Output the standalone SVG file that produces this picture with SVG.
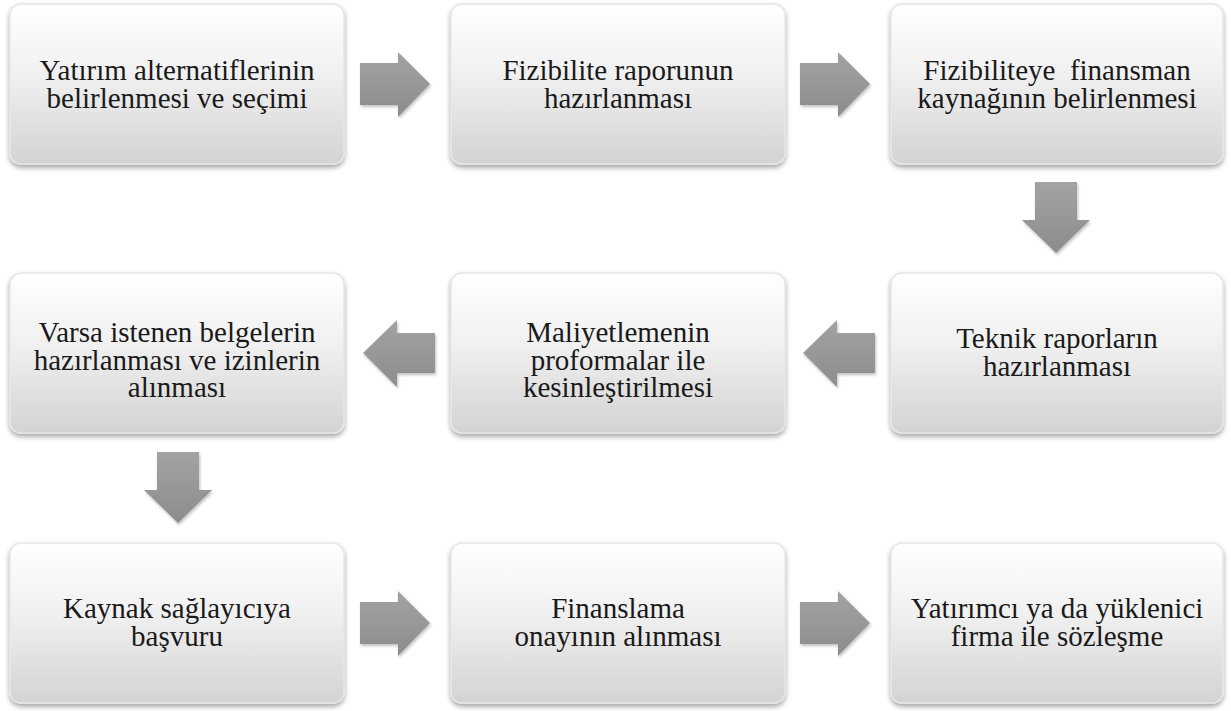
<svg xmlns="http://www.w3.org/2000/svg" xmlns:xlink="http://www.w3.org/1999/xlink" width="1231" height="711" viewBox="0 0 1231 711">
  <style>
    .box { fill: url(#boxGrad); stroke: #e6e6e6; stroke-width: 1.5; filter: url(#shadow); }
    .lbl { font-family: 'Liberation Serif', 'Times New Roman', serif; font-size: 29px; fill: #1a1a1a; text-anchor: middle; }
    .arrow { fill: url(#arrowGrad); filter: url(#ashadow); }
  </style>
  <defs>
    <linearGradient id="boxGrad" x1="0" y1="0" x2="0" y2="1">
      <stop offset="0" stop-color="#ffffff"/>
      <stop offset="0.45" stop-color="#f0f0f0"/>
      <stop offset="1" stop-color="#d3d3d3"/>
    </linearGradient>
    <linearGradient id="arrowGrad" x1="0" y1="0" x2="0" y2="1">
      <stop offset="0" stop-color="#a3a3a3"/>
      <stop offset="1" stop-color="#8c8c8c"/>
    </linearGradient>
    <filter id="shadow" x="-5%" y="-5%" width="110%" height="115%">
      <feDropShadow dx="0" dy="3" stdDeviation="2.5" flood-color="#000" flood-opacity="0.35"/>
    </filter>
    <filter id="ashadow" x="-20%" y="-20%" width="140%" height="140%">
      <feDropShadow dx="1" dy="2" stdDeviation="1.5" flood-color="#000" flood-opacity="0.25"/>
    </filter>
    <path id="arR" d="M0,-21 H38 V-32 L70,0 L38,33 V21 H0 Z"/>
    <path id="arL" d="M0,0 L34,-33 V-20 H72 V20 H34 V34 Z"/>
    <path id="arD" d="M-21,0 H21 V38 H34 L0,71 L-34,38 H-21 Z"/>
  </defs>

  <rect width="1231" height="711" fill="#ffffff"/>

  <g id="connectors">
    <use xlink:href="#arR" class="arrow" transform="translate(360,84)"/>
    <use xlink:href="#arR" class="arrow" transform="translate(800,84)"/>
    <use xlink:href="#arD" class="arrow" transform="translate(1056,182)"/>
    <use xlink:href="#arL" class="arrow" transform="translate(803,353)"/>
    <use xlink:href="#arL" class="arrow" transform="translate(363,353)"/>
    <use xlink:href="#arD" class="arrow" transform="translate(178,452)"/>
    <use xlink:href="#arR" class="arrow" transform="translate(360,623)"/>
    <use xlink:href="#arR" class="arrow" transform="translate(800,623)"/>
  </g>

  <g id="n1">
    <rect class="box" x="10" y="4" width="334" height="160" rx="11"/>
    <text class="lbl" x="177" y="80">Yatırım alternatiflerinin<tspan x="177" dy="28">belirlenmesi ve seçimi</tspan></text>
  </g>
  <g id="n2">
    <rect class="box" x="451" y="4" width="334" height="160" rx="11"/>
    <text class="lbl" x="618" y="80">Fizibilite raporunun<tspan x="618" dy="28">hazırlanması</tspan></text>
  </g>
  <g id="n3">
    <rect class="box" x="891" y="4" width="332" height="160" rx="11"/>
    <text class="lbl" x="1057" y="80" xml:space="preserve">Fizibiliteye  finansman<tspan x="1057" dy="28">kaynağının belirlenmesi</tspan></text>
  </g>
  <g id="n4">
    <rect class="box" x="891" y="273" width="332" height="160" rx="11"/>
    <text class="lbl" x="1057" y="348">Teknik raporların<tspan x="1057" dy="28">hazırlanması</tspan></text>
  </g>
  <g id="n5">
    <rect class="box" x="451" y="273" width="334" height="160" rx="11"/>
    <text class="lbl" x="618" y="342">Maliyetlemenin<tspan x="618" dy="28">proformalar ile</tspan><tspan x="618" dy="27">kesinleştirilmesi</tspan></text>
  </g>
  <g id="n6">
    <rect class="box" x="10" y="273" width="334" height="160" rx="11"/>
    <text class="lbl" x="177" y="342">Varsa istenen belgelerin<tspan x="177" dy="28">hazırlanması ve izinlerin</tspan><tspan x="177" dy="27">alınması</tspan></text>
  </g>
  <g id="n7">
    <rect class="box" x="10" y="543" width="334" height="160" rx="11"/>
    <text class="lbl" x="177" y="618">Kaynak sağlayıcıya<tspan x="177" dy="28">başvuru</tspan></text>
  </g>
  <g id="n8">
    <rect class="box" x="451" y="543" width="334" height="160" rx="11"/>
    <text class="lbl" x="618" y="618">Finanslama<tspan x="618" dy="28">onayının alınması</tspan></text>
  </g>
  <g id="n9">
    <rect class="box" x="891" y="543" width="332" height="160" rx="11"/>
    <text class="lbl" x="1057" y="618">Yatırımcı ya da yüklenici<tspan x="1057" dy="28">firma ile sözleşme</tspan></text>
  </g>
</svg>
